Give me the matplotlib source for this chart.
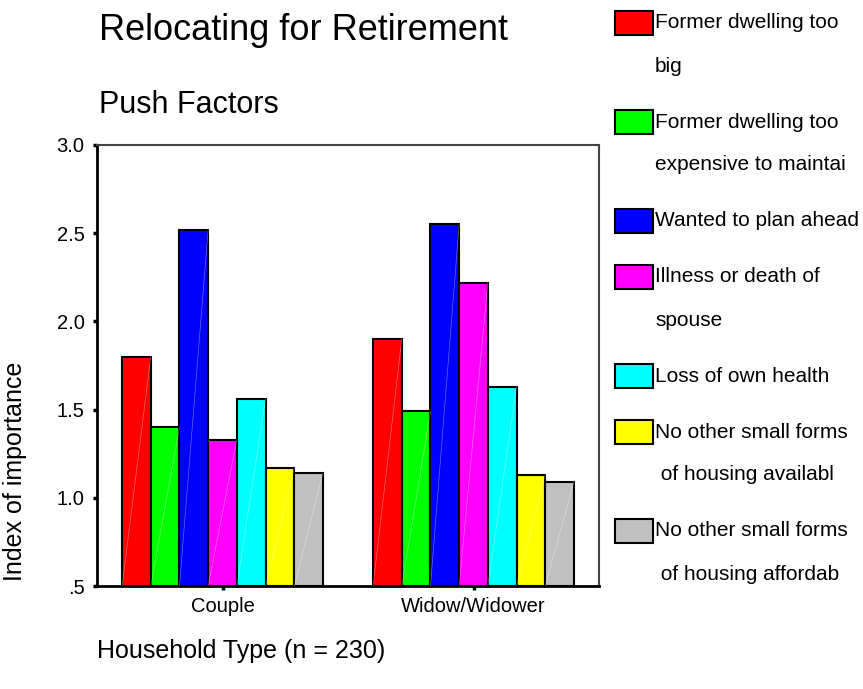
import numpy as np
import matplotlib.pyplot as plt
from matplotlib.patches import Rectangle

plt.rcParams['font.family'] = ['Liberation Sans', 'DejaVu Sans']

# data
groups = ['Couple', 'Widow/Widower']
factors = ['Former dwelling too\nbig',
           'Former dwelling too\nexpensive to maintai',
           'Wanted to plan ahead',
           'Illness or death of\nspouse',
           'Loss of own health',
           'No other small forms\n of housing availabl',
           'No other small forms\n of housing affordab']
couple = [1.80, 1.40, 2.52, 1.33, 1.56, 1.17, 1.14]
widow = [1.90, 1.49, 2.55, 2.22, 1.63, 1.13, 1.09]
colors = ['#ff0000', '#00ff00', '#0000ff', '#ff00ff', '#00ffff', '#ffff00', '#c0c0c0']
yticks = [0.5, 1.0, 1.5, 2.0, 2.5, 3.0]
ytick_labels = ['.5', '1.0', '1.5', '2.0', '2.5', '3.0']

W, H = 863, 689
fig = plt.figure(figsize=(W / 100, H / 100), dpi=100)
ax = fig.add_axes([97 / W, 1 - 586 / H, 502 / W, 441 / H])

base = 0.5
n = len(factors)
width = 0.8 / n
x = np.arange(len(groups))
vals = np.array([couple, widow])
for i in range(n):
    xs = x - 0.4 + width * (i + 0.5)
    heights = vals[:, i] - base
    ax.bar(xs, heights, width, bottom=base, color=colors[i],
           edgecolor='black', linewidth=1.5, zorder=2)
    # faint diagonal line that the original renderer leaves in each bar
    for xc, h in zip(xs, heights):
        ax.plot([xc - width / 2, xc + width / 2], [base, base + h],
                color='white', lw=0.5, alpha=0.4, zorder=3)

ax.set_xlim(-0.5, 1.5)
ax.set_ylim(0.5, 3.0)
ax.set_yticks(yticks)
ax.set_yticklabels(ytick_labels)
ax.set_xticks(x)
ax.set_xticklabels(groups)
ax.tick_params(axis='both', direction='out', length=3, width=2.5, labelsize=14.5)
ax.tick_params(axis='y', pad=6)
ax.tick_params(axis='x', pad=5)

for side in ['left', 'bottom']:
    ax.spines[side].set_linewidth(2)
    ax.spines[side].set_color('black')
for side in ['top', 'right']:
    ax.spines[side].set_linewidth(1.5)
    ax.spines[side].set_color('#444444')

ax.set_ylabel('Index of importance', fontsize=18)
ax.yaxis.set_label_coords(-0.14, 0.26)

fig.text(99 / W, 1 - 30 / H, 'Relocating for Retirement', fontsize=26, va='center', ha='left')
fig.text(99 / W, 1 - 105 / H, 'Push Factors', fontsize=22, va='center', ha='left')
fig.text(97 / W, 1 - 651 / H, 'Household Type (n = 230)', fontsize=18, va='center', ha='left')

# legend drawn by hand, wrapped labels like the original
y = 23
line_gap = 43
entry_gap = 56
for lab, c in zip(factors, colors):
    fig.patches.append(Rectangle((615 / W, 1 - (y + 12) / H), 38 / W, 24 / H,
                                 transform=fig.transFigure, facecolor=c,
                                 edgecolor='black', linewidth=1.5))
    lines = lab.split('\n')
    for k, ln in enumerate(lines):
        fig.text(655 / W, 1 - (y + k * line_gap) / H, ln, fontsize=15,
                 va='center', ha='left')
    y += (len(lines) - 1) * line_gap + entry_gap

fig.savefig('out.png', dpi=100)
